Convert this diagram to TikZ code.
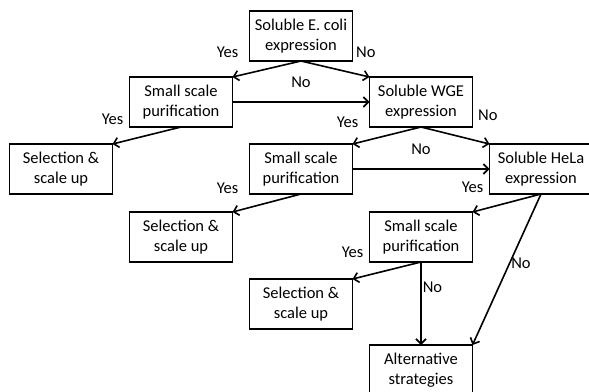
\documentclass[tikz,border=0pt]{standalone}
\usepackage{fontspec}
\setmainfont{Carlito}
\usetikzlibrary{arrows.meta,positioning}

\begin{document}
\begin{tikzpicture}[
  x=1pt, y=-1pt,
  font=\fontsize{16.5}{20}\selectfont,
  box/.style={draw=black, line width=1.6pt, align=center, inner sep=2pt, outer sep=0pt, minimum width=103pt, minimum height=50pt},
  arr/.style={-{Straight Barb[length=5pt,width=10pt]}, line width=1.6pt},
  lbl/.style={inner sep=1pt}
]
\useasboundingbox (0,0) rectangle (589,391);
\node[box] (ecoli) at (301,36) {Soluble E. coli\\expression};
\node[box, below left=16pt and 17pt of ecoli] (pur1) {Small scale\\purification};
\node[box, below right=16pt and 17pt of ecoli] (wge) {Soluble WGE\\expression};
\node[box, below left=17pt and 17pt of pur1] (sel1) {Selection \&\\scale up};
\node[box, below left=17pt and 17pt of wge] (pur2) {Small scale\\purification};
\node[box, below right=17pt and 17pt of wge] (hela) {Soluble HeLa\\expression};
\node[box, below left=18pt and 17pt of pur2] (sel2) {Selection \&\\scale up};
\node[box, below left=18pt and 17pt of hela] (pur3) {Small scale\\purification};
\node[box, below left=17pt and 17pt of pur3] (sel3) {Selection \&\\scale up};
\node[box, below right=16pt and 17pt of sel3] (alt) {Alternative\\strategies};

% yes / no beside the boxes
\node[lbl, above left=2pt and 10pt of ecoli.south west] {Yes};
\node[lbl, above right=2pt and 2.5pt of ecoli.south east] {No};
\node[lbl, above left=1pt and 5pt of pur1.south west] {Yes};
\node[lbl, above left=-2pt and 10pt of wge.south west] {Yes};
\node[lbl, above right=5pt and 4.5pt of wge.south east] {No};
\node[lbl, above left=-1pt and 10pt of pur2.south west] {Yes};
\node[lbl, above left=0pt and 5pt of hela.south west] {Yes};
\node[lbl, above left=3pt and 5pt of pur3.south west] {Yes};

\draw[arr] (ecoli.south) -- (pur1.north east);
\draw[arr] (ecoli.south) -- (wge.north west);
\draw[arr] (pur1) -- node[lbl, above=13pt] {No} (wge);
\draw[arr] (pur1.south) -- (sel1.north east);
\draw[arr] (wge.south) -- (pur2.north east);
\draw[arr] (wge.south) -- (hela.north west);
\draw[arr] (pur2) -- node[lbl, above=13pt] {No} (hela);
\draw[arr] (pur2.south) -- (sel2.north east);
\draw[arr] (hela.south) -- (pur3.north east);
\draw[arr] (pur3.south) -- (sel3.north east);
\draw[arr] (pur3) -- node[lbl, right, pos=0.3] {No} (alt);
\draw[arr] (hela.south) -- node[lbl, right, pos=0.46] {No} (alt.north east);
\end{tikzpicture}
\end{document}
